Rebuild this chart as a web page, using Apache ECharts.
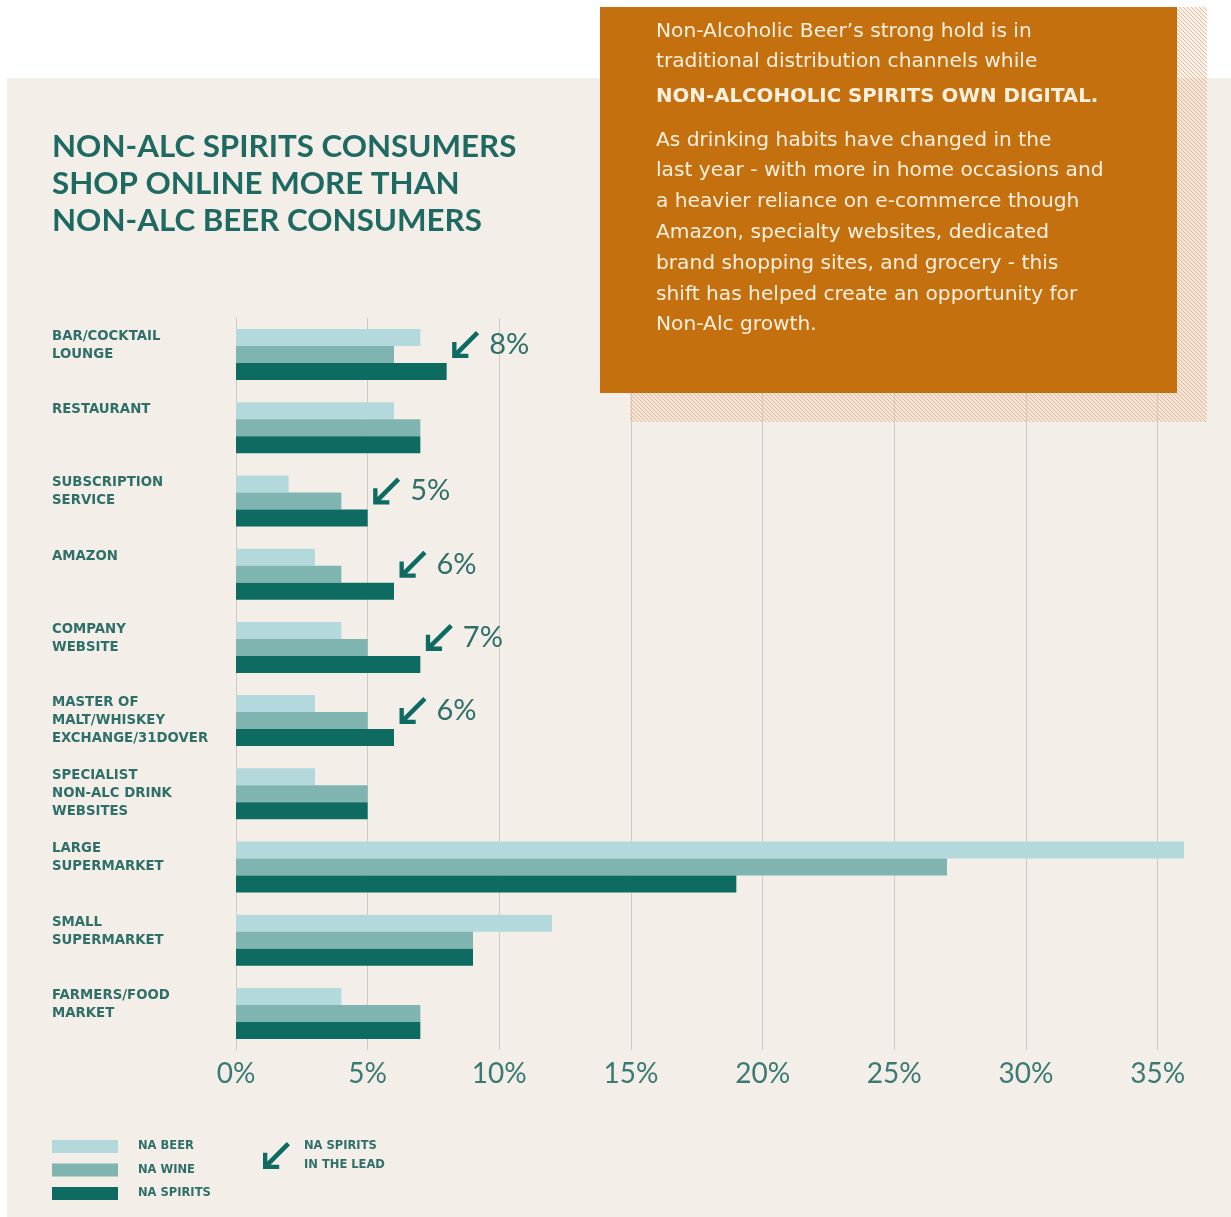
<!DOCTYPE html>
<html><head><meta charset="utf-8">
<script src="https://cdn.jsdelivr.net/npm/echarts@6/dist/echarts.min.js"></script>
<style>html,body{margin:0;padding:0;background:#fff}#c{width:1231px;height:1217px}</style>
</head><body><div id="c"></div>
<script>
const categories = ['BAR/COCKTAIL\nLOUNGE','RESTAURANT','SUBSCRIPTION\nSERVICE','AMAZON','COMPANY\nWEBSITE','MASTER OF\nMALT/WHISKEY\nEXCHANGE/31DOVER','SPECIALIST\nNON-ALC DRINK\nWEBSITES','LARGE\nSUPERMARKET','SMALL\nSUPERMARKET','FARMERS/FOOD\nMARKET'];
const naBeer    = [7, 6, 2, 3, 4, 3, 3, 36, 12, 4];
const naWine    = [6, 7, 4, 4, 5, 5, 5, 27, 9, 7];
const naSpirits = [8, 7, 5, 6, 7, 6, 5, 19, 9, 7];
const seriesNames = ['NA BEER', 'NA WINE', 'NA SPIRITS'];
const xMax = 36;
const xStep = 5;
const titleLines = ['NON-ALC SPIRITS CONSUMERS', 'SHOP ONLINE MORE THAN', 'NON-ALC BEER CONSUMERS'];
const boxPara1 = ['Non-Alcoholic Beer\u2019s strong hold is in', 'traditional distribution channels while'];
const boxBold = 'NON-ALCOHOLIC SPIRITS OWN DIGITAL.';
const boxPara2 = ['As drinking habits have changed in the', 'last year - with more in home occasions and', 'a heavier reliance on e-commerce though', 'Amazon, specialty websites, dedicated', 'brand shopping sites, and grocery - this', 'shift has helped create an opportunity for', 'Non-Alc growth.'];
const leadNote = ['NA SPIRITS', 'IN THE LEAD'];

const C = {
  beer: '#b4d9dc', wine: '#7fb4b1', spirits: '#0d6b62',
  teal: '#1e6a62', label: '#2f6f69', axis: '#3b7a74',
  orange: '#c4700f', boxText: '#fdf0e0', beige: '#f3efe8', grid: '#cdcbc5'
};
const ARROW_PTS = [[0,100],[0,40],[16,40],[16,72],[88,0],[100,12],[28,84],[60,84],[60,100]];
const ARROW = 'path://M' + ARROW_PTS.map(p => p.join(',')).join(' L') + ' Z';

// hatch pattern
const pc = document.createElement('canvas');
pc.width = 4; pc.height = 4;
const g = pc.getContext('2d');
g.strokeStyle = '#eab995'; g.lineWidth = 1.1;
g.beginPath(); g.moveTo(-1,-1); g.lineTo(5,5); g.moveTo(-1,3); g.lineTo(1,5); g.moveTo(3,-1); g.lineTo(5,1); g.stroke();
const hatch = { image: pc, repeat: 'repeat' };

const leadIdx = naSpirits.map((v, i) => (v > naBeer[i] && v > naWine[i]) ? i : -1).filter(i => i >= 0);

const chart = echarts.init(document.getElementById('c'), null, { renderer: 'canvas' });
const barCommon = { type: 'bar', barWidth: 17, barGap: '0%', silent: true };
const boxFont = 'DejaVu Sans';

chart.setOption({
  backgroundColor: C.beige,
  animation: false,
  textStyle: { fontFamily: 'Lato' },
  grid: { left: 236, right: 47, top: 318, bottom: 167, containLabel: false },
  xAxis: {
    type: 'value', min: 0, max: xMax, interval: xStep,
    axisLine: { show: false }, axisTick: { show: false },
    splitLine: { show: true, showMinLine: false, showMaxLine: false, lineStyle: { color: C.grid, width: 1 } },
    axisLabel: {
      showMaxLabel: false, margin: 10, fontSize: 28, color: C.axis, fontFamily: 'Lato',
      formatter: v => (v % xStep === 0 ? v + '%' : '')
    }
  },
  yAxis: {
    type: 'category', data: categories, inverse: true,
    axisLine: { show: true, lineStyle: { color: C.grid, width: 1 } },
    axisTick: { show: false },
    axisLabel: {
      align: 'left', margin: 184, fontSize: 13.3, fontWeight: 'bold', color: C.label,
      fontFamily: 'DejaVu Sans', lineHeight: 18,
      formatter: s => { const n = s.split('\n').length; return s + '\n'.repeat(Math.max(0, 3 - n)) + (n < 3 ? ' ' : ''); }
    }
  },
  legend: {
    orient: 'vertical', left: 52, top: 1140, padding: 0, itemWidth: 66, itemHeight: 13, itemGap: 10.5,
    icon: 'rect', selectedMode: false, data: seriesNames,
    textStyle: { fontSize: 11.5, fontWeight: 'bold', color: C.label, fontFamily: 'DejaVu Sans', padding: [0, 0, 0, 15], lineHeight: 13 }
  },
  series: [
    Object.assign({ name: seriesNames[0], data: naBeer, itemStyle: { color: C.beer } }, barCommon),
    Object.assign({ name: seriesNames[1], data: naWine, itemStyle: { color: C.wine } }, barCommon),
    Object.assign({ name: seriesNames[2], data: naSpirits, itemStyle: { color: C.spirits },
      markPoint: {
        silent: true,
        symbol: ARROW, symbolSize: [27, 27], symbolOffset: [19, -27],
        itemStyle: { color: C.spirits },
        label: { show: true, position: 'right', distance: 10, fontSize: 29, color: '#2e6f69', fontFamily: 'Lato', formatter: p => p.value + '%' },
        data: leadIdx.map(i => ({ coord: [naSpirits[i], categories[i]], value: naSpirits[i] }))
      }
    }, barCommon)
  ],
  graphic: [
    { type: 'rect', z: -10, silent: true, shape: { x: 0, y: 0, width: 1231, height: 78 }, style: { fill: '#ffffff' } },
    { type: 'rect', z: -10, silent: true, shape: { x: 0, y: 78, width: 7, height: 1139 }, style: { fill: '#ffffff' } },
    { type: 'rect', z: 10, silent: true, shape: { x: 1177, y: 7, width: 30, height: 415 }, style: { fill: hatch } },
    { type: 'rect', z: 10, silent: true, shape: { x: 630, y: 393, width: 547, height: 29 }, style: { fill: hatch } },
    { type: 'rect', z: 11, silent: true, shape: { x: 600, y: 7, width: 577, height: 386 }, style: { fill: C.orange } },
    { type: 'text', z: 12, silent: true, x: 656, y: 17, style: {
        text: boxPara1.map(t => '{n|' + t + '}').join('\n') + '\n{b|' + boxBold + '}',
        rich: {
          n: { fontSize: 20.2, fontFamily: boxFont, fill: C.boxText, lineHeight: 30 },
          b: { fontSize: 19.8, fontFamily: boxFont, fontWeight: 'bold', fill: C.boxText, lineHeight: 40 }
        } } },
    { type: 'text', z: 12, silent: true, x: 656, y: 125, style: {
        text: boxPara2.join('\n'), fontSize: 20.2, fontFamily: boxFont, fill: C.boxText, lineHeight: 30.8 } },
    { type: 'text', z: 12, silent: true, x: 52, y: 128, style: {
        text: titleLines.join('\n'), fontSize: 31.3, fontWeight: 'bold', fontFamily: 'Lato', fill: C.teal, lineHeight: 37 } },
    { type: 'polygon', z: 12, silent: true, shape: { points: ARROW_PTS.map(p => [263 + p[0] * 0.27, 1142 + p[1] * 0.27]) }, style: { fill: C.spirits } },
    { type: 'text', z: 12, silent: true, x: 304, y: 1137, style: {
        text: leadNote.join('\n'), fontSize: 11.5, fontWeight: 'bold', fontFamily: 'DejaVu Sans', fill: C.label, lineHeight: 19 } }
  ]
});
</script></body></html>
